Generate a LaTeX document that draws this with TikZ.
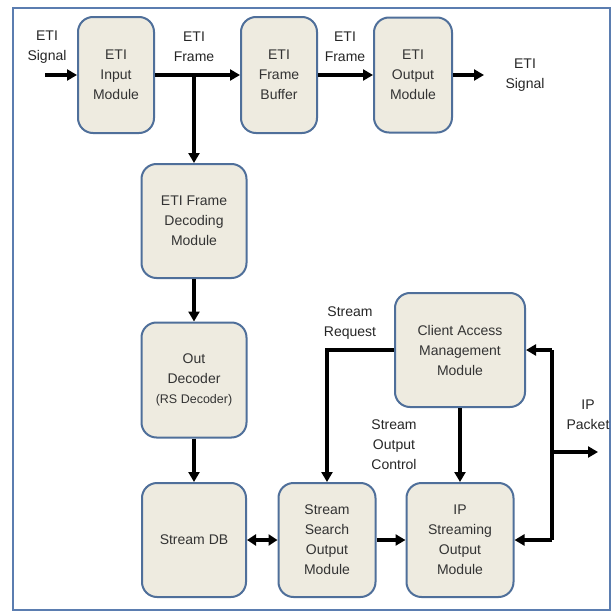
\documentclass[tikz,border=0pt]{standalone}
\usepackage{fontspec}
\setmainfont{Liberation Sans}
\usetikzlibrary{arrows.meta}
\definecolor{boxblue}{HTML}{4F6F9A}
\definecolor{boxfill}{HTML}{EEEBE0}
\definecolor{framecol}{HTML}{5B7DB0}
\tikzset{
  box/.style={draw=boxblue, fill=boxfill, rounded corners=15pt, line width=2pt,
    align=center, font=\fontsize{14}{20}\selectfont, text=black!80, inner sep=0pt},
  lbl/.style={align=center, font=\fontsize{14}{20}\selectfont, text=black!85, inner sep=0pt},
  arr/.style={line width=3.4pt, -{Triangle[length=10pt,width=11pt]}},
  darr/.style={line width=3.4pt, {Triangle[length=9pt,width=11pt]}-{Triangle[length=9pt,width=11pt]}},
  ln/.style={line width=3.4pt}
}
\begin{document}
\begin{tikzpicture}[x=1pt,y=-1pt]
\useasboundingbox (0,0) rectangle (614,613);
\fill[white] (0,0) rectangle (614,613);
\draw[framecol, line width=1.8pt] (13,8) rectangle (610,610);
% boxes
\node[box, minimum width=76pt, minimum height=116pt] (inp) at (116,75) {ETI\\Input\\Module};
\node[box, minimum width=76pt, minimum height=116pt] (buf) at (279,75) {ETI\\Frame\\Buffer};
\node[box, minimum width=78pt, minimum height=115pt] (outm) at (413,75) {ETI\\Output\\Module};
\node[box, minimum width=105pt, minimum height=114pt] (dec) at (194,221) {ETI Frame\\Decoding\\Module};
\node[box, minimum width=105pt, minimum height=115pt] (od) at (194,380) {Out\\Decoder\\{\fontsize{12.5}{20}\selectfont(RS Decoder)}};
\node[box, minimum width=130pt, minimum height=114pt] (cam) at (460,350) {Client Access\\Management\\Module};
\node[box, minimum width=104pt, minimum height=114pt] (db) at (194,540) {Stream DB};
\node[box, minimum width=97pt, minimum height=114pt] (sso) at (327,540) {Stream\\Search\\Output\\Module};
\node[box, minimum width=107pt, minimum height=114pt] (ipso) at (460,540) {IP\\Streaming\\Output\\Module};
% labels
\node[lbl] (l1) at (47,47) {ETI\\Signal};
\node[lbl] (l2) at (194,47) {ETI\\Frame};
\node[lbl] (l3) at (345,47) {ETI\\Frame};
\node[lbl] (l4) at (525,75) {ETI\\Signal};
\node[lbl] (l5) at (350,323) {Stream\\Request};
\node[lbl] (l6) at (394,445) {Stream\\Output\\Control};
\node[lbl] (l7) at (588,415) {IP\\Packet};
% coordinates
\coordinate (sigin) at (45,75);
\coordinate (sigout) at (484,75);
\coordinate (v1) at (552,350);
\coordinate (v2) at (552,540);
\coordinate (vb) at (552,452);
\coordinate (ipout) at (598,452);
% connectors
\draw[arr] (sigin) -- (inp.west);
\draw[arr] (inp.east) -- (buf.west);
\draw[arr] (dec.north |- inp.east) -- (dec.north);
\draw[arr] (buf.east) -- (outm.west);
\draw[arr] (outm.east) -- (sigout);
\draw[arr] (dec.south) -- (od.north);
\draw[arr] (od.south) -- (db.north);
\draw[darr] (db.east) -- (sso.west);
\draw[arr] (sso.east) -- (ipso.west);
\draw[arr] (cam.west) -| (sso.north);
\draw[arr] (cam.south) -- (ipso.north);
\draw[ln] (v1) -- (v2);
\draw[arr] (v1) -- (cam.east);
\draw[arr] (v2) -- (ipso.east);
\draw[arr] (vb) -- (ipout);
\end{tikzpicture}
\end{document}
